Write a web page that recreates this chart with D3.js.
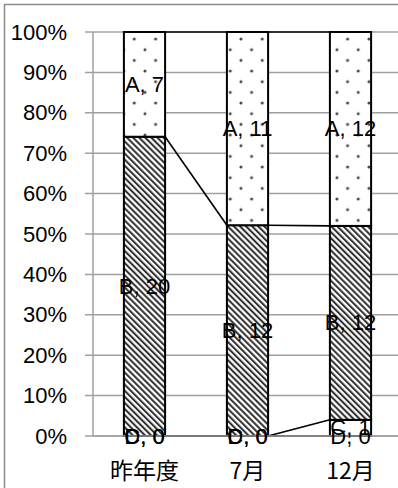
<!DOCTYPE html>
<html>
<head>
<meta charset="utf-8">
<script src="https://cdn.jsdelivr.net/npm/d3@7/dist/d3.min.js"></script>
<style>
  html, body { margin: 0; padding: 0; background: #fff; overflow: hidden; }
  svg { display: block; }
</style>
</head>
<body>
<svg id="chart" width="398" height="488"></svg>
<script>
// Categories and counts per series (stacked bottom to top: D, C, B, A)
const categories = ["昨年度", "7月", "12月"];
const seriesNames = ["D", "C", "B", "A"];
const valuesD = [0, 0, 0];
const valuesC = [0, 0, 1];
const valuesB = [20, 12, 12];
const valuesA = [7, 11, 12];
const yTicks = [0, 0.1, 0.2, 0.3, 0.4, 0.5, 0.6, 0.7, 0.8, 0.9, 1.0];

const seriesValues = { D: valuesD, C: valuesC, B: valuesB, A: valuesA };

const rows = categories.map((c, i) => {
  const r = { cat: c };
  seriesNames.forEach(s => { r[s] = seriesValues[s][i]; });
  return r;
});

const stack = d3.stack().keys(seriesNames).offset(d3.stackOffsetExpand);
const layers = stack(rows);

const svg = d3.select("#chart");
const plot = { left: 93, right: 402, top: 32, bottom: 436 };

const x = d3.scaleBand().domain(categories).range([plot.left, plot.right])
  .paddingInner(0.6).paddingOuter(0.3);
const y = d3.scaleLinear().domain([0, 1]).range([plot.bottom, plot.top]);

const gridColor = "#a0a0a0";
const textFont = "'Liberation Sans', Arial, sans-serif";
const fontSize = 22;

// Patterns
const defs = svg.append("defs");
const dots = defs.append("pattern").attr("id", "dots")
  .attr("patternUnits", "userSpaceOnUse")
  .attr("x", 6.3).attr("y", 17.7)
  .attr("width", 21.33).attr("height", 21.33);
dots.append("rect").attr("width", 21.33).attr("height", 21.33).attr("fill", "#fff");
[[0, 0], [21.33, 0], [0, 21.33], [21.33, 21.33], [10.67, 10.67]].forEach(([cx, cy]) => {
  dots.append("circle").attr("cx", cx).attr("cy", cy).attr("r", 1.5).attr("fill", "#444");
});

const stripes = defs.append("pattern").attr("id", "stripes")
  .attr("patternUnits", "userSpaceOnUse")
  .attr("width", 4.3).attr("height", 10)
  .attr("patternTransform", "rotate(-45)");
stripes.append("rect").attr("width", 4.3).attr("height", 10).attr("fill", "#fff");
stripes.append("line").attr("x1", 1.1).attr("x2", 1.1).attr("y1", 0).attr("y2", 10)
  .attr("stroke", "#222").attr("stroke-width", 1.9);

const fills = { D: "#fff", C: "#fff", B: "url(#stripes)", A: "url(#dots)" };

// Outer chart frame
svg.append("rect").attr("x", 4.5).attr("y", 4.5).attr("width", 420).attr("height", 520)
  .attr("fill", "none").attr("stroke", "#8c8c8c").attr("stroke-width", 1.5);

// Horizontal gridlines with outside ticks
svg.append("g").selectAll("line").data(yTicks).join("line")
  .attr("x1", plot.left - 8).attr("x2", plot.right)
  .attr("y1", d => y(d)).attr("y2", d => y(d))
  .attr("stroke", gridColor).attr("stroke-width", 1.5);

// Vertical value axis line
svg.append("line").attr("x1", plot.left).attr("x2", plot.left)
  .attr("y1", plot.top).attr("y2", plot.bottom)
  .attr("stroke", gridColor).attr("stroke-width", 1.5);

// Y tick labels
svg.append("g").selectAll("text").data(yTicks).join("text")
  .attr("x", 67).attr("y", d => y(d))
  .attr("text-anchor", "end").attr("dominant-baseline", "central")
  .attr("font-family", textFont).attr("font-size", fontSize).attr("fill", "#000")
  .text(d => d3.format(".0%")(d));

// Stacked bar segments
layers.forEach(layer => {
  svg.append("g").selectAll("rect").data(layer).join("rect")
    .attr("x", d => x(d.data.cat))
    .attr("y", d => y(d[1]))
    .attr("width", x.bandwidth())
    .attr("height", d => y(d[0]) - y(d[1]))
    .attr("fill", fills[layer.key])
    .attr("stroke", "#000").attr("stroke-width", 2);
});

// Series lines joining the top of each series between adjacent bars
layers.forEach(layer => {
  const segs = d3.pairs(layer);
  svg.append("g").selectAll("line").data(segs).join("line")
    .attr("x1", d => x(d[0].data.cat) + x.bandwidth())
    .attr("y1", d => y(d[0][1]))
    .attr("x2", d => x(d[1].data.cat))
    .attr("y2", d => y(d[1][1]))
    .attr("stroke", "#000").attr("stroke-width", 1.6);
});

// Category axis line
svg.append("line").attr("x1", plot.left).attr("x2", plot.right)
  .attr("y1", plot.bottom).attr("y2", plot.bottom)
  .attr("stroke", gridColor).attr("stroke-width", 1.5);

// Data labels: "series, value" centred in each segment
layers.forEach(layer => {
  svg.append("g").selectAll("text").data(layer).join("text")
    .attr("x", d => x(d.data.cat) + x.bandwidth() / 2)
    .attr("y", d => y((d[0] + d[1]) / 2))
    .attr("text-anchor", "middle").attr("dominant-baseline", "central")
    .attr("font-family", textFont).attr("font-size", fontSize).attr("fill", "#000")
    .text(d => `${layer.key}, ${d.data[layer.key]}`);
});

// Category labels
svg.append("g").selectAll("text").data(categories).join("text")
  .attr("x", d => x(d) + x.bandwidth() / 2)
  .attr("y", 469)
  .attr("text-anchor", "middle").attr("dominant-baseline", "central")
  .attr("font-family", "'Noto Sans CJK JP', 'Liberation Sans', sans-serif")
  .attr("font-size", 23).attr("fill", "#000")
  .text(d => d);
</script>
</body>
</html>
